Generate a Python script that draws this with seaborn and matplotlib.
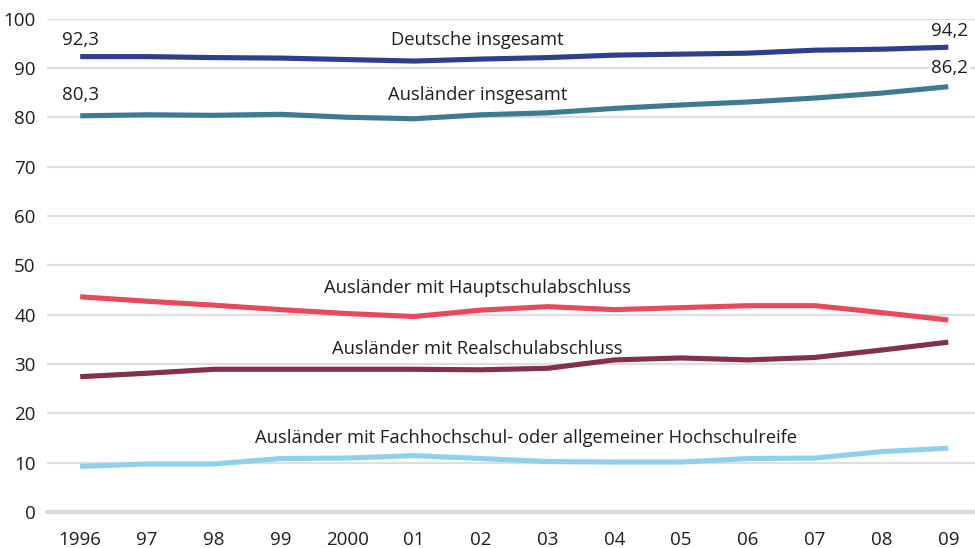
import numpy as np
import pandas as pd
import matplotlib.pyplot as plt
import seaborn as sns

plt.switch_backend('agg')

years = ['1996', '97', '98', '99', '2000', '01', '02', '03', '04', '05', '06', '07', '08', '09']

deutsche = [92.3, 92.3, 92.1, 92.0, 91.7, 91.4, 91.8, 92.1, 92.6, 92.8, 93.0, 93.6, 93.8, 94.2]
auslaender = [80.3, 80.5, 80.4, 80.6, 80.0, 79.7, 80.5, 80.9, 81.8, 82.5, 83.1, 83.9, 84.9, 86.2]
hauptschule = [43.6, 42.7, 41.9, 41.0, 40.2, 39.6, 40.9, 41.6, 41.0, 41.4, 41.8, 41.8, 40.4, 38.9]
realschule = [27.4, 28.1, 28.9, 28.9, 28.9, 28.9, 28.8, 29.1, 30.8, 31.2, 30.8, 31.3, 32.8, 34.4]
hochschulreife = [9.2, 9.7, 9.7, 10.8, 10.9, 11.4, 10.8, 10.2, 10.1, 10.1, 10.8, 10.9, 12.2, 12.9]

series_names = ['Deutsche insgesamt', 'Ausländer insgesamt', 'Ausländer mit Hauptschulabschluss',
                'Ausländer mit Realschulabschluss',
                'Ausländer mit Fachhochschul- oder allgemeiner Hochschulreife']
series_values = [deutsche, auslaender, hauptschule, realschule, hochschulreife]
colors = ['#2f3f8d', '#3d7b93', '#e84a5b', '#82304b', '#8fd1ec']

# label positions (x index, y value) for series names
label_pos = [(5.95, 95.6), (5.95, 84.5), (5.95, 45.3), (5.95, 33.0), (6.67, 14.9)]

rows = []
for name, vals in zip(series_names, series_values):
    for i, v in enumerate(vals):
        rows.append({'idx': i, 'value': v, 'series': name})
df = pd.DataFrame(rows)

sns.set_style('white')
plt.rcParams['font.family'] = ['Open Sans', 'DejaVu Sans']

fig = plt.figure(figsize=(9.75, 5.48), dpi=100)
ax = fig.add_axes([0.048, 0.066, 0.952, 0.9])

sns.lineplot(data=df, x='idx', y='value', hue='series', hue_order=series_names,
             palette=colors, linewidth=3.7, legend=False, ax=ax, zorder=3)
for line in ax.lines:
    line.set_solid_capstyle('butt')
    line.set_clip_on(False)

ax.set_xlim(-0.5, 13.4)
ax.set_ylim(0, 100)
ax.set_yticks(np.arange(0, 101, 10))
for y in range(10, 101, 10):
    ax.axhline(y, color='#dedede', linewidth=1.6, zorder=1)
ax.axhline(0, color='#dcdcdc', linewidth=3.2, zorder=1, clip_on=False)

ax.set_xticks(np.arange(-0.5, 13, 1))
ax.set_xticklabels([])
ax.set_xticks(np.arange(len(years)), minor=True)
ax.set_xticklabels(years, minor=True)
ax.tick_params(axis='x', which='major', length=7, width=2.2, color='#dcdcdc', direction='out')
ax.tick_params(axis='x', which='minor', length=0, pad=14, labelsize=13.5, labelcolor='#1e1e1e')
ax.tick_params(axis='y', length=0, pad=8, labelsize=13.5, labelcolor='#1e1e1e')
ax.set_xlabel('')
ax.set_ylabel('')
for s in ax.spines.values():
    s.set_visible(False)

for name, (lx, ly) in zip(series_names, label_pos):
    ax.text(lx, ly, name, ha='center', va='center', fontsize=13.2, color='#1e1e1e', zorder=4)

ax.text(0, 95.7, '92,3', ha='center', va='center', fontsize=13.5, color='#1e1e1e')
ax.text(0, 84.5, '80,3', ha='center', va='center', fontsize=13.5, color='#1e1e1e')
ax.text(13.02, 97.5, '94,2', ha='center', va='center', fontsize=13.5, color='#1e1e1e', clip_on=False)
ax.text(13.02, 90.0, '86,2', ha='center', va='center', fontsize=13.5, color='#1e1e1e', clip_on=False,
        bbox=dict(facecolor='white', edgecolor='none', pad=1.5), zorder=4)

fig.savefig('out.png', dpi=100)
